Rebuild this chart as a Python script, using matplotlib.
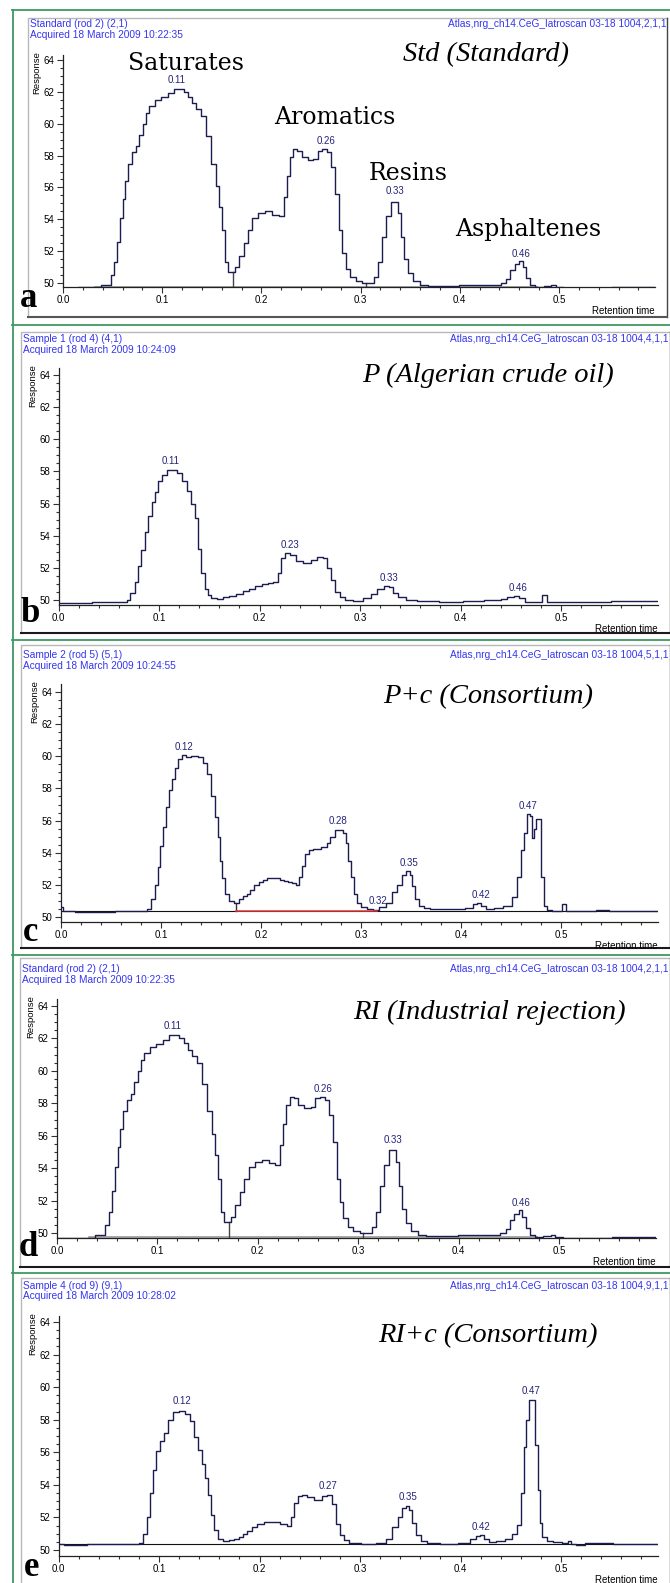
import numpy as np
import matplotlib.pyplot as plt
from matplotlib.ticker import MultipleLocator, FormatStrFormatter

# ---- data (retention time, response) ----
# standard (used in panels a and d)
std_t = [0.000, 0.030, 0.046, 0.050, 0.053, 0.056, 0.059, 0.062, 0.064, 0.068,
         0.072, 0.075, 0.079, 0.082, 0.085, 0.089, 0.096, 0.102, 0.109, 0.115,
         0.119, 0.124, 0.128, 0.132, 0.137, 0.141, 0.147, 0.152, 0.156, 0.159,
         0.161, 0.165, 0.168, 0.171, 0.175, 0.180, 0.184, 0.188, 0.194, 0.200,
         0.208, 0.214, 0.221, 0.224, 0.227, 0.230, 0.234, 0.238, 0.243, 0.250,
         0.255, 0.259, 0.264, 0.269, 0.272, 0.277, 0.280, 0.283, 0.287, 0.292,
         0.298, 0.305, 0.311, 0.316, 0.320, 0.324, 0.328, 0.333, 0.336, 0.339,
         0.342, 0.346, 0.350, 0.356, 0.363, 0.372, 0.389, 0.410, 0.427, 0.438,
         0.445, 0.449, 0.453, 0.458, 0.462, 0.465, 0.469, 0.473, 0.479, 0.490,
         0.494, 0.499, 0.509, 0.597]
std_r = [49.70, 49.72, 49.90, 50.50, 51.30, 52.60, 54.10, 55.30, 56.40, 57.50,
         58.20, 58.60, 59.30, 60.00, 60.70, 61.10, 61.50, 61.65, 61.90, 62.20,
         62.20, 62.00, 61.70, 61.30, 60.90, 60.50, 59.20, 57.50, 56.10, 54.80,
         53.30, 51.30, 50.70, 50.70, 51.00, 51.70, 52.50, 53.30, 54.10, 54.40,
         54.50, 54.30, 54.20, 55.40, 56.70, 57.90, 58.40, 58.30, 57.90, 57.70,
         57.80, 58.30, 58.40, 58.20, 57.30, 55.60, 53.30, 51.90, 50.90, 50.40,
         50.10, 50.00, 50.00, 50.40, 51.30, 52.90, 54.20, 55.10, 55.10, 54.40,
         52.90, 51.50, 50.60, 50.10, 49.90, 49.83, 49.83, 49.85, 49.90, 49.90,
         50.00, 50.25, 50.80, 51.20, 51.40, 51.00, 50.30, 49.90, 49.75, 49.80,
         49.90, 49.75, 49.70, 49.73]

# P (Algerian crude oil)
p_t = [0.000, 0.067, 0.069, 0.074, 0.078, 0.081, 0.084, 0.088, 0.091, 0.095,
       0.098, 0.101, 0.105, 0.111, 0.116, 0.120, 0.125, 0.130, 0.134, 0.137,
       0.140, 0.144, 0.147, 0.150, 0.154, 0.161, 0.167, 0.173, 0.180, 0.187,
       0.193, 0.199, 0.205, 0.211, 0.216, 0.220, 0.223, 0.227, 0.233, 0.239,
       0.248, 0.254, 0.261, 0.266, 0.269, 0.273, 0.278, 0.282, 0.288, 0.299,
       0.307, 0.314, 0.320, 0.327, 0.331, 0.335, 0.341, 0.350, 0.363, 0.395,
       0.409, 0.437, 0.443, 0.450, 0.456, 0.461, 0.467, 0.480, 0.482, 0.485,
       0.487, 0.503, 0.597]
p_r = [49.83, 49.85, 50.00, 50.45, 51.10, 52.10, 53.10, 54.25, 55.20, 56.10,
       56.70, 57.40, 57.80, 58.10, 58.10, 57.90, 57.40, 56.80, 56.00, 55.10,
       53.20, 51.70, 50.70, 50.30, 50.10, 50.04, 50.17, 50.28, 50.40, 50.55,
       50.70, 50.85, 51.00, 51.05, 51.10, 51.70, 52.60, 52.90, 52.80, 52.45,
       52.30, 52.50, 52.70, 52.60, 52.00, 51.25, 50.50, 50.17, 50.00, 49.96,
       50.10, 50.40, 50.66, 50.87, 50.80, 50.45, 50.17, 50.00, 49.94, 49.90,
       49.94, 50.00, 50.04, 50.17, 50.25, 50.10, 49.90, 49.90, 50.30, 50.30,
       49.85, 49.90, 49.92]

# P+c (Consortium)
pc_t = [0.000, 0.003, 0.024, 0.084, 0.088, 0.092, 0.095, 0.098, 0.100, 0.103,
        0.106, 0.109, 0.112, 0.115, 0.118, 0.123, 0.127, 0.133, 0.140, 0.144,
        0.148, 0.152, 0.155, 0.158, 0.160, 0.162, 0.165, 0.170, 0.175, 0.180,
        0.184, 0.187, 0.191, 0.195, 0.200, 0.204, 0.208, 0.212, 0.217, 0.221,
        0.225, 0.229, 0.233, 0.236, 0.239, 0.242, 0.246, 0.249, 0.255, 0.264,
        0.267, 0.271, 0.276, 0.280, 0.283, 0.286, 0.288, 0.291, 0.294, 0.298,
        0.302, 0.309, 0.315, 0.321, 0.328, 0.334, 0.338, 0.343, 0.347, 0.350,
        0.352, 0.355, 0.360, 0.366, 0.372, 0.400, 0.409, 0.414, 0.418, 0.422,
        0.428, 0.437, 0.447, 0.454, 0.458, 0.461, 0.464, 0.467, 0.470, 0.472,
        0.474, 0.476, 0.479, 0.481, 0.484, 0.488, 0.494, 0.500, 0.501, 0.504,
        0.505, 0.524, 0.546, 0.550, 0.597]
pc_r = [50.60, 50.35, 50.30, 50.35, 50.50, 51.10, 52.00, 53.10, 54.40, 55.60,
        56.85, 57.90, 58.60, 59.30, 59.85, 60.06, 59.96, 60.04, 59.96, 59.60,
        58.90, 57.50, 56.20, 55.00, 53.50, 52.40, 51.45, 51.00, 50.90, 51.10,
        51.30, 51.45, 51.70, 52.00, 52.20, 52.30, 52.40, 52.45, 52.40, 52.30,
        52.25, 52.20, 52.10, 52.00, 52.50, 53.20, 53.90, 54.20, 54.25, 54.36,
        54.60, 55.00, 55.40, 55.40, 55.20, 54.60, 53.50, 52.50, 51.45, 50.90,
        50.60, 50.50, 50.45, 50.60, 50.90, 51.55, 52.00, 52.60, 52.86, 52.60,
        51.90, 51.15, 50.70, 50.55, 50.50, 50.50, 50.58, 50.80, 50.90, 50.66,
        50.50, 50.55, 50.70, 51.25, 52.50, 54.15, 55.20, 56.40, 56.30, 54.90,
        55.50, 56.10, 56.10, 52.50, 50.70, 50.45, 50.40, 50.40, 50.80, 50.80,
        50.37, 50.40, 50.45, 50.37, 50.37]

# RI+c (Consortium)
ric_t = [0.000, 0.010, 0.046, 0.078, 0.082, 0.086, 0.090, 0.093, 0.096, 0.099,
         0.103, 0.107, 0.111, 0.116, 0.123, 0.129, 0.133, 0.137, 0.141, 0.144,
         0.148, 0.150, 0.153, 0.157, 0.161, 0.167, 0.172, 0.178, 0.182, 0.186,
         0.190, 0.195, 0.201, 0.208, 0.216, 0.225, 0.230, 0.233, 0.236, 0.240,
         0.244, 0.250, 0.259, 0.265, 0.270, 0.274, 0.278, 0.282, 0.286, 0.293,
         0.308, 0.323, 0.329, 0.335, 0.340, 0.344, 0.347, 0.350, 0.354, 0.358,
         0.363, 0.371, 0.389, 0.406, 0.412, 0.418, 0.421, 0.425, 0.431, 0.440,
         0.448, 0.454, 0.459, 0.462, 0.464, 0.467, 0.469, 0.473, 0.476, 0.478,
         0.480, 0.483, 0.489, 0.495, 0.506, 0.508, 0.512, 0.518, 0.529, 0.550,
         0.554, 0.597]
ric_r = [50.37, 50.30, 50.37, 50.35, 50.45, 51.00, 52.05, 53.50, 54.90, 56.05,
         56.70, 57.20, 58.00, 58.45, 58.55, 58.35, 57.90, 56.95, 56.15, 55.30,
         54.40, 53.40, 52.15, 51.20, 50.70, 50.57, 50.60, 50.70, 50.82, 50.96,
         51.15, 51.40, 51.60, 51.70, 51.70, 51.60, 51.50, 52.05, 52.90, 53.30,
         53.40, 53.25, 53.10, 53.30, 53.40, 52.80, 51.60, 50.90, 50.60, 50.40,
         50.37, 50.40, 50.70, 51.40, 52.05, 52.56, 52.70, 52.45, 51.64, 50.90,
         50.55, 50.40, 50.37, 50.45, 50.66, 50.86, 50.90, 50.70, 50.50, 50.57,
         50.70, 50.96, 51.54, 53.50, 56.35, 58.00, 59.20, 59.20, 56.45, 53.70,
         51.64, 50.78, 50.55, 50.47, 50.45, 50.55, 50.35, 50.30, 50.40, 50.40,
         50.35, 50.35]

# peak labels: (x, y, text)
peaks_std = [(0.115, 62.76, '0.11'), (0.265, 58.9, '0.26'), (0.335, 55.75, '0.33'),
             (0.462, 51.85, '0.46')]
peaks_p = [(0.112, 58.67, '0.11'), (0.230, 53.42, '0.23'), (0.329, 51.39, '0.33'),
           (0.457, 50.73, '0.46')]
peaks_pc = [(0.123, 60.58, '0.12'), (0.277, 56.0, '0.28'), (0.317, 51.0, '0.32'),
            (0.348, 53.36, '0.35'), (0.420, 51.4, '0.42'), (0.467, 56.9, '0.47')]
peaks_ric = [(0.123, 59.12, '0.12'), (0.268, 53.93, '0.27'), (0.348, 53.28, '0.35'),
             (0.420, 51.43, '0.42'), (0.470, 59.77, '0.47')]

fractions = [('Saturates', 0.124, 63.75), ('Aromatics', 0.274, 60.36),
             ('Resins', 0.348, 56.9), ('Asphaltenes', 0.469, 53.33)]

W, H = 670, 1583
fig = plt.figure(figsize=(W / 100, H / 100), dpi=100)

# background axes in pixel coordinates for frames and header text
bg = fig.add_axes([0, 0, 1, 1])
bg.set_xlim(0, W)
bg.set_ylim(H, 0)
bg.axis('off')

green = '#3c9a62'
for yy in [10, 325, 640, 955, 1273]:
    bg.plot([12, W], [yy, yy], color=green, lw=1.3)
bg.plot([12.5, 12.5], [10, H], color=green, lw=1.3)

blue = '#3535f0'
navy = '#24247a'
curve_col = '#1c1c52'
sans = 'Liberation Sans'

# layout of each panel (pixels)
panels = [
    dict(box=(28, 18, 667, 317), left=63, right=655, px01=99.2, y64=60, y50=283, ybot=287, ytop=55,
         head=(24, 35), rx=667, t=std_t, r=std_r, peaks=peaks_std,
         title='Std (Standard)', tpos=(486, 55), letter='a', lpos=(29, 298),
         h1='Standard (rod 2) (2,1)', h2='Acquired 18 March 2009 10:22:35', h3='1004,2,1,1'),
    dict(box=(21, 332, 670, 633), left=58.5, right=658, px01=100.5, y64=375, y50=600, ybot=605, ytop=368,
         head=(339, 350), rx=669, t=p_t, r=p_r, peaks=peaks_p,
         title='P (Algerian crude oil)', tpos=(488, 375), letter='b', lpos=(30, 613),
         h1='Sample 1 (rod 4) (4,1)', h2='Acquired 18 March 2009 10:24:09', h3='1004,4,1,1'),
    dict(box=(21, 645, 670, 948), left=61, right=658, px01=100, y64=692, y50=917, ybot=922, ytop=684,
         head=(655, 666), rx=669, t=pc_t, r=pc_r, peaks=peaks_pc,
         title='P+c (Consortium)', tpos=(488, 697), letter='c', lpos=(31, 932),
         h1='Sample 2 (rod 5) (5,1)', h2='Acquired 18 March 2009 10:24:55', h3='1004,5,1,1'),
    dict(box=(20, 958, 670, 1267), left=57, right=656, px01=100.4, y64=1006, y50=1233, ybot=1238, ytop=999,
         head=(969, 980), rx=669, t=std_t, r=std_r, peaks=peaks_std,
         title='RI (Industrial rejection)', tpos=(489, 1012), letter='d', lpos=(28, 1248),
         h1='Standard (rod 2) (2,1)', h2='Acquired 18 March 2009 10:22:35', h3='1004,2,1,1'),
    dict(box=(21, 1278, 670, 1600), left=58.5, right=658, px01=100.5, y64=1322, y50=1550, ybot=1556, ytop=1316,
         head=(1286, 1296), rx=669, t=ric_t, r=ric_r, peaks=peaks_ric,
         title='RI+c (Consortium)', tpos=(488, 1336), letter='e', lpos=(32, 1567),
         h1='Sample 4 (rod 9) (9,1)', h2='Acquired 18 March 2009 10:28:02', h3='1004,9,1,1'),
]

axes = []
for i, p in enumerate(panels):
    x0, y0, x1, y1 = p['box']
    bg.plot([x0, x0, x1], [y1, y0, y0], color='#b8b8b8', lw=1.0)
    bg.plot([x1, x1], [y0, y1], color='#444444', lw=1.0)
    bg.plot([x0, x1], [y1, y1], color='#555555' if i == 0 else '#1a1a1a', lw=1.5)

    bg.text(x0 + 2, p['head'][0], p['h1'], color=blue, fontsize=7.3, family=sans, va='center')
    bg.text(x0 + 2, p['head'][1], p['h2'], color=blue, fontsize=7.3, family=sans, va='center')
    bg.text(p['rx'], p['head'][0], 'Atlas,nrg_ch14.CeG_Iatroscan 03-18 ' + p['h3'],
            color=blue, fontsize=7.3, family=sans, va='center', ha='right')

    bg.text(p['tpos'][0], p['tpos'][1], p['title'], family='Liberation Serif',
            style='italic', fontsize=20.5, ha='center', va='center')
    bg.text(p['lpos'][0], p['lpos'][1], p['letter'], family='Liberation Serif',
            weight='bold', fontsize=25, ha='center', va='center')
    bg.text(p['left'] - 26, p['ytop'] + 18, 'Response', rotation=90, fontsize=6.8,
            family=sans, ha='center', va='center')
    bg.text(p['right'], p['ybot'] + 24, 'Retention time', fontsize=7, family=sans,
            ha='right', va='center')

    ppu = (p['y50'] - p['y64']) / 14.0
    ymin = 50 - (p['ybot'] - p['y50']) / ppu
    ymax = 64 + (p['y64'] - p['ytop']) / ppu
    xmax = (p['right'] - p['left']) / p['px01'] * 0.1

    ax = fig.add_axes([p['left'] / W, 1 - p['ybot'] / H,
                       (p['right'] - p['left']) / W, (p['ybot'] - p['ytop']) / H])
    ax.set_facecolor('none')
    ax.set_xlim(0, xmax)
    ax.set_ylim(ymin, ymax)
    for s in ['top', 'right']:
        ax.spines[s].set_visible(False)
    for s in ['left', 'bottom']:
        ax.spines[s].set_color('#222222')
        ax.spines[s].set_linewidth(0.9)
    ax.xaxis.set_major_locator(MultipleLocator(0.1))
    ax.xaxis.set_minor_locator(MultipleLocator(0.02))
    ax.xaxis.set_major_formatter(FormatStrFormatter('%.1f'))
    ax.yaxis.set_major_locator(MultipleLocator(2))
    ax.yaxis.set_minor_locator(MultipleLocator(0.5))
    ax.yaxis.set_major_formatter(FormatStrFormatter('%d'))
    ax.tick_params(which='both', direction='out', color='#333333', width=0.8)
    ax.tick_params(which='major', length=4, labelsize=7, pad=2)
    ax.tick_params(which='minor', length=2.5)
    for lab in ax.get_xticklabels() + ax.get_yticklabels():
        lab.set_family(sans)

    ax.plot(p['t'], p['r'], drawstyle='steps-mid', color=curve_col, lw=1.0, zorder=3)
    for (px, py, s) in p['peaks']:
        ax.text(px, py, s, ha='center', va='center', fontsize=7, color=navy, family=sans)
    axes.append(ax)

# integration marks
for k in (0, 3):
    ax = axes[k]
    ax.plot([0.032, 0.478], [49.78, 49.78], color='#999999', lw=1.2, zorder=2)
    ax.plot([0.171, 0.171], [ax.get_ylim()[0], 50.7], color='#444444', lw=1.0)
    ax.plot([0.305, 0.305], [ax.get_ylim()[0], 50.0], color='#444444', lw=1.0)
    for name, fx, fy in (fractions if k == 0 else []):
        ax.text(fx, fy, name, family='DejaVu Serif', fontsize=17, ha='center', va='center')

axes[2].plot([0, axes[2].get_xlim()[1]], [50.37, 50.37], color='#111111', lw=0.8, zorder=2)
axes[2].plot([0.175, 0.316], [50.37, 50.37], color='#e03a3a', lw=1.1, zorder=4)
axes[2].plot([0.175, 0.175], [50.37, 50.9], color='#333333', lw=1.0)
axes[4].plot([0, axes[4].get_xlim()[1]], [50.35, 50.35], color='#111111', lw=0.8, zorder=2)

fig.savefig('out.png', dpi=100)
